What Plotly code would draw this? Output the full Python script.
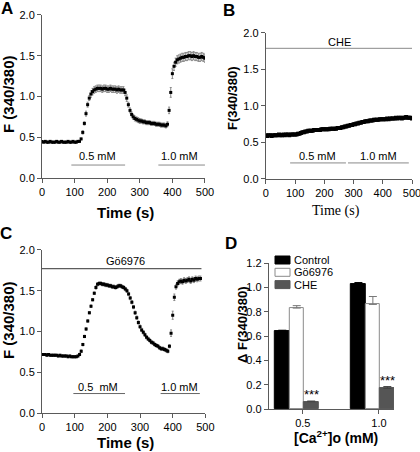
import plotly.graph_objects as go

# ---------------- data ----------------
tA = list(range(0, 505, 5))
A_mean = [0.45, 0.44, 0.45, 0.44, 0.44, 0.45, 0.44, 0.44, 0.44, 0.45, 0.44, 0.44, 0.45, 0.44, 0.44, 0.44,
          0.45, 0.44, 0.44, 0.45, 0.44, 0.44, 0.45, 0.45,
          0.48, 0.56, 0.67, 0.79, 0.90, 0.98, 1.03, 1.06, 1.08, 1.09,
          1.10, 1.10, 1.10, 1.09, 1.10, 1.10, 1.09, 1.09, 1.10, 1.09, 1.09, 1.09, 1.08, 1.09, 1.08, 1.08, 1.08,
          1.05, 0.98, 0.90, 0.83, 0.78, 0.75, 0.73, 0.72, 0.71, 0.70,
          0.70, 0.69, 0.69, 0.68, 0.68, 0.68, 0.67, 0.67, 0.67, 0.66, 0.66, 0.66, 0.65, 0.65, 0.65, 0.64,
          0.66, 0.83, 1.05, 1.28, 1.37, 1.42, 1.45, 1.46, 1.47,
          1.48, 1.48, 1.49, 1.49, 1.50, 1.50, 1.49, 1.50, 1.49, 1.49, 1.48, 1.48, 1.49, 1.48, 1.47]
A_err = [0.01] * 24 + [0.01, 0.02, 0.02, 0.03, 0.03, 0.03, 0.04, 0.04, 0.04, 0.04] + [0.04] * 17 \
    + [0.04, 0.04, 0.03, 0.03, 0.03, 0.03, 0.03, 0.03, 0.03, 0.03] + [0.025] * 16 \
    + [0.03, 0.04, 0.06, 0.06, 0.05, 0.05, 0.05, 0.05, 0.05] + [0.05] * 15

tB = list(range(0, 505, 5))
B_mean = [0.60, 0.59, 0.60, 0.60, 0.59, 0.60, 0.60, 0.60, 0.60, 0.61, 0.60,
          0.60, 0.61, 0.60, 0.61, 0.61, 0.60, 0.61, 0.61, 0.61, 0.61,
          0.61, 0.62, 0.62, 0.63, 0.64, 0.64, 0.65, 0.65, 0.66, 0.66,
          0.66, 0.66, 0.67, 0.67, 0.67, 0.67, 0.67, 0.68, 0.68, 0.68,
          0.68, 0.68, 0.68, 0.69, 0.69, 0.69, 0.69, 0.69, 0.70, 0.70,
          0.70, 0.71, 0.71, 0.72, 0.72, 0.73, 0.73, 0.74, 0.74, 0.75,
          0.75, 0.76, 0.76, 0.77, 0.77, 0.78, 0.78, 0.79, 0.79, 0.79,
          0.80, 0.80, 0.80, 0.81, 0.81, 0.81, 0.81, 0.82, 0.82, 0.82,
          0.82, 0.82, 0.83, 0.82, 0.83, 0.83, 0.83, 0.83, 0.84, 0.83,
          0.84, 0.84, 0.83, 0.84, 0.84, 0.85, 0.84, 0.84, 0.84, 0.83]
B_err = [0.012] * 101

tC = list(range(0, 490, 5))
C_mean = [0.72, 0.72, 0.72, 0.71, 0.72, 0.71, 0.71, 0.71, 0.71, 0.71, 0.70, 0.71, 0.70, 0.70, 0.70, 0.70,
          0.69, 0.70, 0.69, 0.69, 0.69, 0.69,
          0.70, 0.72, 0.76, 0.84, 0.94, 1.03, 1.13, 1.23, 1.31, 1.39, 1.47, 1.54, 1.58, 1.59,
          1.59, 1.58, 1.58, 1.57, 1.57, 1.56, 1.56, 1.55, 1.55, 1.54, 1.55, 1.56, 1.56, 1.55, 1.54, 1.52,
          1.50, 1.46, 1.41, 1.36, 1.30, 1.23, 1.17, 1.11, 1.06, 1.02, 0.99, 0.96, 0.93, 0.91, 0.89, 0.87,
          0.86, 0.84, 0.83, 0.82, 0.80, 0.79, 0.79, 0.78, 0.77, 0.76,
          0.82, 0.98, 1.20, 1.42, 1.55, 1.59, 1.61, 1.62, 1.61, 1.63, 1.62, 1.63, 1.64, 1.62, 1.64, 1.63,
          1.65, 1.64, 1.65, 1.65]
C_err = [0.01] * 22 + [0.01, 0.015, 0.015, 0.015, 0.015, 0.015, 0.015, 0.015, 0.015, 0.015, 0.015, 0.02, 0.02, 0.02] \
    + [0.02] * 16 + [0.02] * 26 + [0.02, 0.04, 0.05, 0.04, 0.03] + [0.03] * 15

# bar chart (panel D)
D_categories = ["0.5", "1.0"]
D_control = [0.64, 1.03]
D_control_err = [0.008, 0.01]
D_go = [0.83, 0.86]
D_go_err = [0.02, 0.065]
D_che = [0.06, 0.17]
D_che_err = [0.006, 0.015]

# ---------------- style ----------------
FONT = "Liberation Sans, Arial, sans-serif"
SERIF = "Liberation Serif, Times New Roman, serif"
AX = "#5a5a5a"

fig = go.Figure()


def series(t, m, e, xa, ya, size=3):
    fig.add_trace(go.Scatter(
        x=t, y=m, mode="markers", xaxis=xa, yaxis=ya,
        marker=dict(symbol="square", size=size, color="black", line=dict(width=0)),
        error_y=dict(type="data", array=e, color="#8a8a8a", thickness=1, width=1),
        showlegend=False, hoverinfo="skip"))


series(tA, A_mean, A_err, "x", "y")
series(tB, B_mean, B_err, "x2", "y2", size=4)
series(tC, C_mean, C_err, "x3", "y3")

# bars
pos = [1, 2]
BW = 0.19
offsets = {"ctrl": -0.27, "go": -0.08, "che": 0.11}
fig.add_trace(go.Bar(x=[p + offsets["ctrl"] for p in pos], y=D_control, width=BW,
                     marker=dict(color="black", line=dict(color="black", width=1)),
                     error_y=dict(type="data", symmetric=False, array=D_control_err, arrayminus=[0, 0],
                                  color="black", thickness=1, width=4),
                     xaxis="x4", yaxis="y4", showlegend=False))
fig.add_trace(go.Bar(x=[p + offsets["go"] for p in pos], y=D_go, width=BW,
                     marker=dict(color="white", line=dict(color="#8a8a8a", width=1)),
                     error_y=dict(type="data", symmetric=False, array=D_go_err, arrayminus=[0, 0],
                                  color="#777", thickness=1, width=4),
                     xaxis="x4", yaxis="y4", showlegend=False))
fig.add_trace(go.Bar(x=[p + offsets["che"] for p in pos], y=D_che, width=BW,
                     marker=dict(color="#555555", line=dict(color="#555555", width=1)),
                     error_y=dict(type="data", symmetric=False, array=D_che_err, arrayminus=[0, 0],
                                  color="#444", thickness=1, width=4),
                     xaxis="x4", yaxis="y4", showlegend=False))


def axis(**kw):
    d = dict(showline=True, linecolor=AX, linewidth=1, ticks="outside", ticklen=4, tickcolor=AX,
             tickwidth=1, showgrid=False, zeroline=False, automargin=False, ticklabeloverflow="allow",
             tickfont=dict(family=FONT, size=11, color="black"))
    d.update(kw)
    return d


fig.update_layout(
    width=420, height=452, margin=dict(l=0, r=0, t=0, b=0, pad=0, autoexpand=False),
    paper_bgcolor="white", plot_bgcolor="white", showlegend=False, bargap=0,
    xaxis=axis(domain=[0.100, 0.488], anchor="y", range=[0, 500], tickvals=[0, 100, 200, 300, 400, 500]),
    yaxis=axis(domain=[0.606, 0.967], anchor="x", range=[0, 2.0], dtick=0.5, tickformat=".1f"),
    xaxis2=axis(domain=[0.633, 0.981], anchor="y2", range=[0, 500], tickvals=[0, 100, 200, 300, 400, 500]),
    yaxis2=axis(domain=[0.604, 0.927], anchor="x2", range=[0, 2.0], dtick=0.5, tickformat=".1f"),
    xaxis3=axis(domain=[0.100, 0.489], anchor="y3", range=[0, 500], tickvals=[0, 100, 200, 300, 400, 500]),
    yaxis3=axis(domain=[0.086, 0.447], anchor="x3", range=[0, 2.0], dtick=0.5, tickformat=".1f"),
    xaxis4=axis(domain=[0.640, 0.938], anchor="y4", range=[0.553, 2.197], tickvals=pos, ticktext=D_categories),
    yaxis4=axis(domain=[0.095, 0.418], anchor="x4", range=[0, 1.2], dtick=0.2, tickformat=".1f"),
)

shapes = []
ann = []


def hline(xr, yr, x0, x1, y, color):
    shapes.append(dict(type="line", xref=xr, yref=yr, x0=x0, x1=x1, y0=y, y1=y,
                       line=dict(color=color, width=1)))


def label(xr, yr, x, y, text, size=11, **kw):
    d = dict(xref=xr, yref=yr, x=x, y=y, text=text, showarrow=False,
             xanchor="center", yanchor="middle",
             font=dict(family=FONT, size=size, color="black"))
    d.update(kw)
    ann.append(d)


def ptext(px, py, text, font, angle=0):
    ann.append(dict(xref="paper", yref="paper", x=px / 420, y=1 - py / 452, text=text,
                    textangle=angle, showarrow=False, xanchor="center", yanchor="middle", font=font))


# Panel A treatment bars
hline("x", "y", 90, 255, 0.16, "#8a8a8a")
hline("x", "y", 357, 500, 0.16, "#8a8a8a")
label("x", "y", 169, 0.27, "0.5 mM")
label("x", "y", 423, 0.27, "1.0 mM")
# Panel B
hline("x2", "y2", 0, 500, 1.79, "#8a8a8a")
label("x2", "y2", 251, 1.88, "CHE")
hline("x2", "y2", 83, 274, 0.22, "#8a8a8a")
hline("x2", "y2", 281, 489, 0.22, "#8a8a8a")
label("x2", "y2", 176, 0.32, "0.5 mM")
label("x2", "y2", 384, 0.32, "1.0 mM")
# Panel C
hline("x3", "y3", 0, 488, 1.77, "#333333")
label("x3", "y3", 256, 1.86, "Gö6976")
hline("x3", "y3", 96, 254, 0.24, "#666666")
hline("x3", "y3", 363, 483, 0.24, "#666666")
label("x3", "y3", 172, 0.32, "0.5\u00a0 mM")
label("x3", "y3", 422, 0.32, "1.0 mM")

# Panel D asterisks
for p, v, e in zip(pos, D_che, D_che_err):
    label("x4", "y4", p + offsets["che"], v + e, "***", size=13, yanchor="bottom", yshift=-3)

# Panel D legend (manual)
leg = [("Control", "black", "black"), ("Gö6976", "white", "#8a8a8a"), ("CHE", "#555555", "#555555")]
for i, (name, fill, edge) in enumerate(leg):
    yc = 260 + i * 12.3
    shapes.append(dict(type="rect", xref="paper", yref="paper",
                       x0=275 / 420, x1=290 / 420, y0=1 - (yc + 4) / 452, y1=1 - (yc - 4) / 452,
                       fillcolor=fill, line=dict(color=edge, width=1)))
    label("paper", "paper", 292 / 420, 1 - yc / 452, name, size=11, xanchor="left")

# Axis titles
bold15 = dict(family=FONT, size=15, color="black")
ptext(8, 94, "<b>F (340/380)</b>", bold15, -90)
ptext(125, 212, "<b>Time (s)</b>", bold15)
ptext(232, 98, "<b>F(340/380)</b>", dict(family=FONT, size=13, color="black"), -90)
ptext(336, 211, "Time (s)", dict(family=SERIF, size=14, color="black"))
ptext(8, 320, "<b>F (340/380)</b>", bold15, -90)
ptext(125, 442, "<b>Time (s)</b>", bold15)
ptext(242, 324, "<b>Δ F(340/380)</b>", dict(family=FONT, size=13, color="black"), -90)
ptext(336, 437, "<b>[Ca<sup>2+</sup>]o (mM)</b>", dict(family=FONT, size=14, color="black"))

# Panel letters
for txt, px, py in [("A", 7, 8), ("B", 229, 10), ("C", 6, 233), ("D", 231, 243)]:
    ptext(px, py, "<b>%s</b>" % txt, dict(family=FONT, size=17, color="black"))

fig.update_layout(shapes=shapes, annotations=ann)
fig.write_html("out.html", config={"displayModeBar": False},
               post_script="document.body.style.margin='0';document.body.style.padding='0';")
